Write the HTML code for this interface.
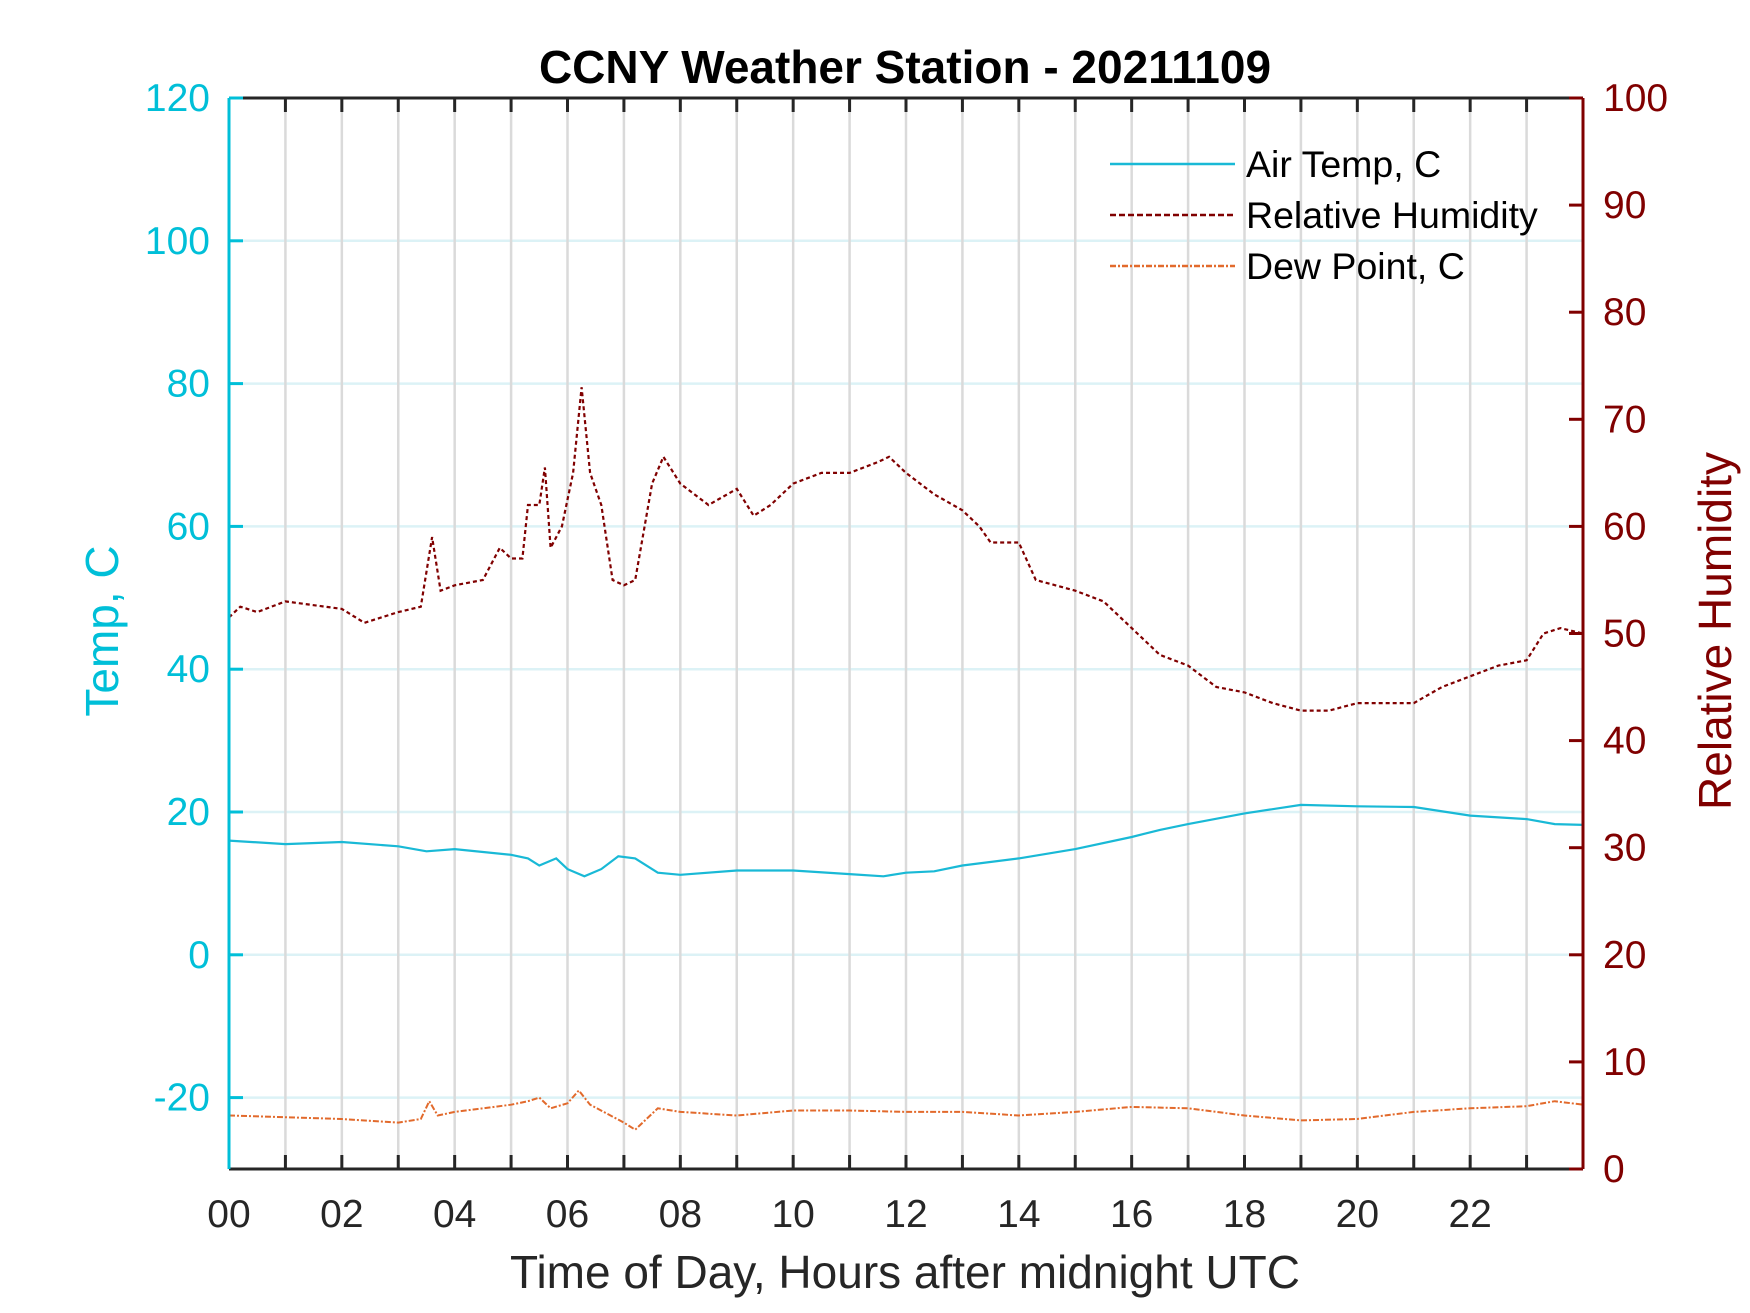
<!DOCTYPE html>
<html><head><meta charset="utf-8"><style>
html,body{margin:0;padding:0;background:#fff;}
svg{display:block;font-family:"Liberation Sans",Arial,sans-serif;}
</style></head><body>
<svg id="chart" width="1750" height="1313" viewBox="0 0 1750 1313" xmlns="http://www.w3.org/2000/svg">
<g id="grid"></g>
<g id="series"></g>
<g id="axes"></g>
<text x="905" y="83" text-anchor="middle" font-size="46" font-weight="bold" fill="#000">CCNY Weather Station - 20211109</text>
<text x="905" y="1288" text-anchor="middle" font-size="46" fill="#262626">Time of Day, Hours after midnight UTC</text>
<text x="0" y="0" transform="translate(118,631) rotate(-90)" text-anchor="middle" font-size="46" fill="#00bfd8">Temp, C</text>
<text x="0" y="0" transform="translate(1731,631) rotate(-90)" text-anchor="middle" font-size="46" fill="#800000">Relative Humidity</text>
<g id="legend"></g>
</svg>
<script>
const hours=[0,2,4,6,8,10,12,14,16,18,20,22];
const tempTicks=[-20,0,20,40,60,80,100,120];
const rhTicks=[0,10,20,30,40,50,60,70,80,90,100];
const tempT=[0,1,2,3,3.5,4,5,5.3,5.5,5.8,6,6.3,6.6,6.9,7.2,7.6,8,9,10,11,11.6,12,12.5,13,14,15,16,16.5,17,18,19,20,21,22,23,23.5,24];
const tempV=[16,15.5,15.8,15.2,14.5,14.8,14,13.5,12.5,13.5,12,11,12,13.8,13.5,11.5,11.2,11.8,11.8,11.3,11,11.5,11.7,12.5,13.5,14.8,16.5,17.5,18.3,19.8,21,20.8,20.7,19.5,19,18.3,18.2];
const rhT=[0,0.2,0.5,1,2,2.4,3,3.4,3.6,3.75,4,4.5,4.8,5,5.2,5.3,5.5,5.6,5.7,5.9,6.1,6.25,6.4,6.6,6.8,7,7.2,7.5,7.7,8,8.5,9,9.3,9.6,10,10.5,11,11.5,11.7,12,12.5,13,13.3,13.5,14,14.3,15,15.5,16,16.5,17,17.5,18,18.5,19,19.5,20,21,21.5,22,22.5,23,23.3,23.6,24];
const rhV=[51.5,52.5,52,53,52.3,51,52,52.5,59,54,54.5,55,58,57,57,62,62,65.5,58,60,65,73,65,62,55,54.5,55,64,66.5,64,62,63.5,61,62,64,65,65,66,66.5,65,63,61.5,60,58.5,58.5,55,54,53,50.5,48,47,45,44.5,43.5,42.8,42.8,43.5,43.5,45,46,47,47.5,50,50.5,50];
const dewT=[0,2,3,3.4,3.55,3.7,4,5,5.3,5.5,5.7,6,6.2,6.4,7,7.2,7.6,8,9,10,11,12,13,14,15,16,17,18,19,20,21,22,23,23.5,24];
const dewV=[-22.5,-23,-23.5,-23,-20.5,-22.5,-22,-21,-20.5,-20,-21.5,-20.8,-19,-21,-23.5,-24.5,-21.5,-22,-22.5,-21.8,-21.8,-22,-22,-22.5,-22,-21.3,-21.5,-22.5,-23.2,-23,-22,-21.5,-21.2,-20.5,-21];

const L=229,R=1583,T=98,B=1169,NS="http://www.w3.org/2000/svg";
const xs=h=>L+(R-L)*h/24;
const yT=v=>B-(B-T)*(v+30)/150;
const yR=v=>B-(B-T)*v/100;
function mk(tag,attrs,parent){const e=document.createElementNS(NS,tag);for(const k in attrs)e.setAttribute(k,attrs[k]);parent.appendChild(e);return e;}
const grid=document.getElementById('grid'),axes=document.getElementById('axes'),ser=document.getElementById('series'),leg=document.getElementById('legend');
for(const v of tempTicks){if(v===120)continue;const l=mk('line',{x1:L,x2:R,y1:yT(v),y2:yT(v),stroke:'#dcf2f6','stroke-width':2.5},grid);

}
for(let h=1;h<24;h++){const l=mk('line',{x1:xs(h),x2:xs(h),y1:T,y2:B,stroke:'#dadada','stroke-width':2.5},grid);

}
function path(ts,vs,fy,color,dash,w,name){let d='';ts.forEach((t,i)=>{d+=(i?'L':'M')+xs(t).toFixed(1)+','+fy(vs[i]).toFixed(1);});
const p=mk('path',{d:d,fill:'none',stroke:color,'stroke-width':w,'stroke-dasharray':dash},ser);

}
path(tempT,tempV,yT,'#19b9d6','none',2.2,'air-temp-line');
path(rhT,rhV,yR,'#800000','4,3',2.2,'relative-humidity-line');
path(dewT,dewV,yT,'#e26a2c','6,2,2,2',2,'dew-point-line');
mk('line',{x1:L,x2:R,y1:T,y2:T,stroke:'#262626','stroke-width':3},axes);
mk('line',{x1:L,x2:R,y1:B,y2:B,stroke:'#262626','stroke-width':3},axes);
mk('line',{x1:L,x2:L,y1:T,y2:B,stroke:'#00bfd8','stroke-width':3},axes);
mk('line',{x1:R,x2:R,y1:T,y2:B,stroke:'#800000','stroke-width':3},axes);
for(let h=1;h<24;h++){mk('line',{x1:xs(h),x2:xs(h),y1:B,y2:B-14,stroke:'#262626','stroke-width':3},axes);mk('line',{x1:xs(h),x2:xs(h),y1:T,y2:T+14,stroke:'#262626','stroke-width':3},axes);}
for(const h of hours){const t=mk('text',{x:xs(h),y:1227,'text-anchor':'middle','font-size':39,fill:'#262626'},axes);t.textContent=String(h).padStart(2,'0');

}
for(const v of tempTicks){mk('line',{x1:L,x2:L+14,y1:yT(v),y2:yT(v),stroke:'#00bfd8','stroke-width':3},axes);
const t=mk('text',{x:210,y:yT(v)+13,'text-anchor':'end','font-size':39,fill:'#00bfd8'},axes);t.textContent=v;

}
for(const v of rhTicks){mk('line',{x1:R,x2:R-14,y1:yR(v),y2:yR(v),stroke:'#800000','stroke-width':3},axes);
const t=mk('text',{x:1603,y:yR(v)+13,'text-anchor':'start','font-size':39,fill:'#800000'},axes);t.textContent=v;

}
const items=[['Air Temp, C','#19b9d6','none'],['Relative Humidity','#800000','6,3'],['Dew Point, C','#e26a2c','6,2,2,2']];
items.forEach((it,i)=>{const y=164+i*51;
const g=mk('g',{},leg);


mk('line',{x1:1110,x2:1235,y1:y,y2:y,stroke:it[1],'stroke-width':2.5,'stroke-dasharray':it[2]},g);
const t=mk('text',{x:1246,y:y+13,'font-size':37.5,fill:'#000'},g);t.textContent=it[0];});
</script>
</body></html>
